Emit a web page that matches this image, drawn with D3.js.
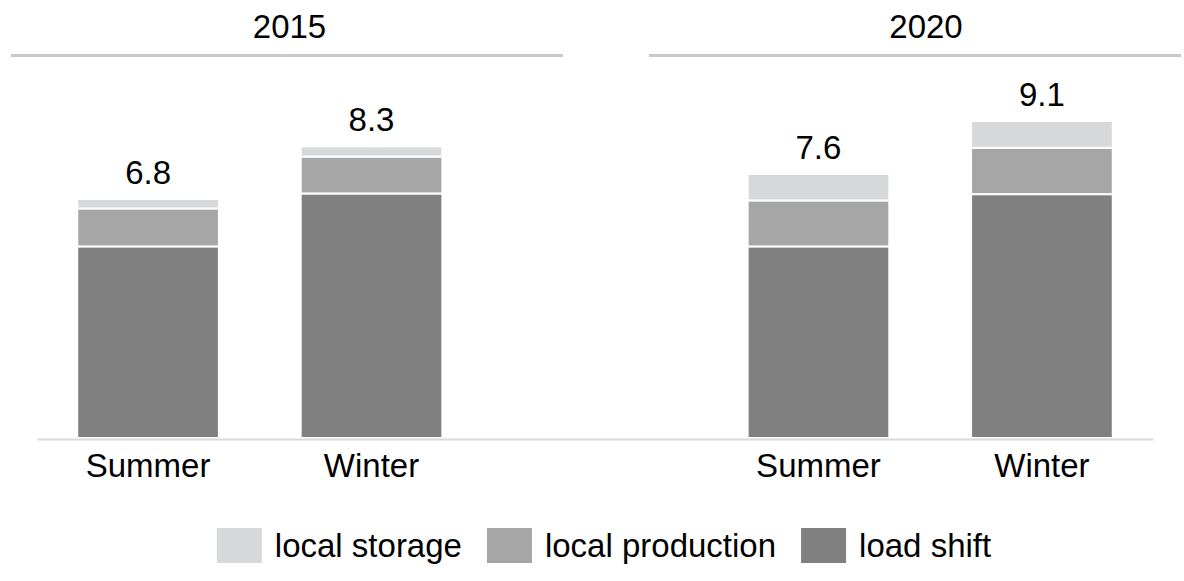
<!DOCTYPE html>
<html>
<head>
<meta charset="utf-8">
<script src="https://cdn.jsdelivr.net/npm/d3@7"></script>
<style>
  html, body { margin: 0; padding: 0; background: #fff; }
  svg { display: block; font-family: "Liberation Sans", Arial, Helvetica, sans-serif; }
</style>
</head>
<body>
<svg id="chart" width="1184" height="581"></svg>
<script>
// ---- data ----
const years = ["2015", "2020"];
const seasons = ["Summer", "Winter"];
const seriesNames = ["load shift", "local production", "local storage"];
// values in order: 2015 Summer, 2015 Winter, 2020 Summer, 2020 Winter
const loadShift       = [5.50, 7.02, 5.50, 7.00];
const localProduction = [1.09, 1.06, 1.32, 1.33];
const localStorage    = [0.27, 0.29, 0.76, 0.77];
const totalLabels     = ["6.8", "8.3", "7.6", "9.1"];
const legendOrder     = ["local storage", "local production", "load shift"];

// ---- setup ----
const svg = d3.select("#chart");
const W = 1184, H = 581;
const colors = d3.scaleOrdinal()
  .domain(seriesNames)
  .range(["#808080", "#a6a6a6", "#d7d8da"]);

// build rows
const rows = [];
years.forEach((yr, i) => seasons.forEach((s, j) => {
  const k = i * seasons.length + j;
  rows.push({
    key: yr + "|" + s, year: yr, season: s,
    "load shift": loadShift[k],
    "local production": localProduction[k],
    "local storage": localStorage[k],
    label: totalLabels[k]
  });
}));

// x: band scale with an empty spacer slot between the two years
const xDomain = [];
years.forEach((yr, i) => {
  if (i > 0) xDomain.push("__gap" + i);
  seasons.forEach(s => xDomain.push(yr + "|" + s));
});
const x = d3.scaleBand()
  .domain(xDomain)
  .range([37, 1153])
  .paddingInner(0.366)
  .paddingOuter(0.18);

const baseY = 438;
const y = d3.scaleLinear().domain([0, 9.1]).range([baseY, 121]);

const stack = d3.stack().keys(seriesNames);
const stacked = stack(rows);

// header lines + year titles
const headerSpans = [[11, 563], [649, 1181]];
const headerCenters = [289.5, 926];
years.forEach((yr, i) => {
  svg.append("line")
    .attr("x1", headerSpans[i][0]).attr("x2", headerSpans[i][1])
    .attr("y1", 55.5).attr("y2", 55.5)
    .attr("stroke", "#cacaca").attr("stroke-width", 3);
  svg.append("text")
    .attr("x", headerCenters[i]).attr("y", 38)
    .attr("text-anchor", "middle")
    .attr("font-size", 33).attr("fill", "#000")
    .text(yr);
});

// bars
const g = svg.append("g");
g.selectAll("g.layer")
  .data(stacked)
  .join("g")
  .attr("class", "layer")
  .attr("fill", d => colors(d.key))
  .selectAll("rect")
  .data(d => d)
  .join("rect")
  .attr("x", d => x(d.data.key))
  .attr("width", x.bandwidth())
  .attr("y", d => y(d[1]))
  .attr("height", d => y(d[0]) - y(d[1]))
  .attr("stroke", "#fff")
  .attr("stroke-width", 2);

// axis baseline
const xAxis = d3.axisBottom(x).tickSize(0).tickFormat(k => k.startsWith("__gap") ? "" : k.split("|")[1]);
const axG = svg.append("g").attr("transform", `translate(0,${baseY + 1})`).call(xAxis);
axG.select(".domain").attr("stroke", "#d9d9d9").attr("stroke-width", 2);
axG.selectAll(".tick text")
  .attr("font-size", 33)
  .attr("font-family", '"Liberation Sans", Arial, Helvetica, sans-serif')
  .attr("fill", "#000")
  .attr("dy", null)
  .attr("y", 38);

// total labels
svg.append("g").selectAll("text")
  .data(rows)
  .join("text")
  .attr("x", d => x(d.key) + x.bandwidth() / 2)
  .attr("y", d => y(d["load shift"] + d["local production"] + d["local storage"]) - 15)
  .attr("text-anchor", "middle")
  .attr("font-size", 33).attr("fill", "#000")
  .text(d => d.label);

// legend
const lg = svg.append("g");
const sw = 45, swH = 35, gapText = 13, gapItem = 25;
let cx = 0;
const items = [];
legendOrder.forEach(name => {
  const it = lg.append("g");
  it.append("rect").attr("x", 0).attr("y", 0).attr("width", sw).attr("height", swH)
    .attr("fill", colors(name));
  const t = it.append("text").attr("x", sw + gapText).attr("y", 29)
    .attr("font-size", 33).attr("fill", "#000").text(name);
  const tw = t.node().getComputedTextLength();
  it.attr("transform", `translate(${cx},0)`);
  cx += sw + gapText + tw + gapItem;
});
const totalW = cx - gapItem;
lg.attr("transform", `translate(${604 - totalW / 2},528)`);
</script>
</body>
</html>
